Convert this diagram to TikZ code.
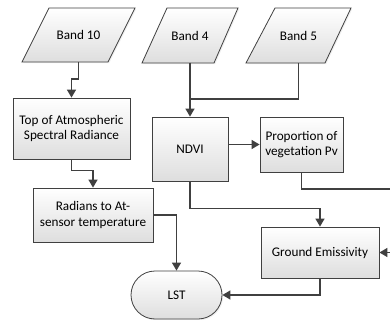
\documentclass[tikz,border=0pt]{standalone}
\usepackage{fontspec}
\setmainfont{Carlito}
\usetikzlibrary{shapes.misc,arrows.meta,shadows}
\definecolor{edge}{HTML}{404040}
\tikzset{
  fillgrad/.style={draw=edge, line width=0.8pt, top color=white, bottom color=black!13,
    drop shadow={opacity=0.12, shadow xshift=1.2pt, shadow yshift=-1.2pt}},
  txt/.style={align=center, inner sep=2pt, font=\fontsize{13.2}{15.5}\selectfont},
  box/.style={fillgrad, txt},
  band/.style={txt, minimum height=54pt},
  term/.style={box, rounded rectangle},
  line/.style={draw=edge, line width=1.4pt},
  arr/.style={line, -{Triangle[length=8pt,width=9pt]}}
}
\begin{document}
\begin{tikzpicture}[x=1pt,y=-1pt]
\clip (0,0) rectangle (390,320);
\fill[white] (0,0) rectangle (390,320);
\path[fillgrad] (22,62) -- (108,62) -- (135,8) -- (49,8) -- cycle;
\path[fillgrad] (142,63) -- (214,63) -- (238,8) -- (167,8) -- cycle;
\path[fillgrad] (246,63) -- (325,63) -- (351,8) -- (275,8) -- cycle;
\node[band] (band10) at (78.5,35) {Band 10};
\node[band] (band4) at (190,35.5) {Band 4};
\node[band] (band5) at (298.5,35.5) {Band 5};
\node[box, minimum width=117pt, minimum height=61pt] (toa) at (71.5,128.5) {Top of Atmospheric\\Spectral Radiance};
\node[box, minimum width=120pt, minimum height=54pt] (rad) at (93,215) {Radians to At-\\sensor temperature};
\node[box, minimum width=76pt, minimum height=64pt] (ndvi) at (190,149) {NDVI};
\node[box, minimum width=83pt, minimum height=55pt] (prop) at (301.5,144.5) {Proportion of\\vegetation Pv};
\node[box, minimum width=118pt, minimum height=51pt] (ground) at (320,252.5) {Ground Emissivity};
\node[term, minimum width=95pt, minimum height=48pt] (lst) at (176.5,295) {LST};
\coordinate (meet) at (190,99);
\coordinate (outer) at (398,189);
\draw[arr] (band10.south) -- ++(0,17) -| (toa.north);
\draw[arr] (toa.south) -- ++(0,11) -| (rad.north);
\draw[arr] (band4.south) -- (ndvi.north);
\draw[line] (band5.south) |- (meet);
\draw[arr] (ndvi.east |- prop.west) -- (prop.west);
\draw[arr] (ndvi.south) -- ++(0,27) -| (ground.north);
\draw[line] (prop.south) |- (outer);
\draw[arr] (outer) |- (ground.east);
\draw[arr] (rad.east) -| (lst.north);
\draw[arr] (ground.south) |- (lst.east);
\end{tikzpicture}
\end{document}
